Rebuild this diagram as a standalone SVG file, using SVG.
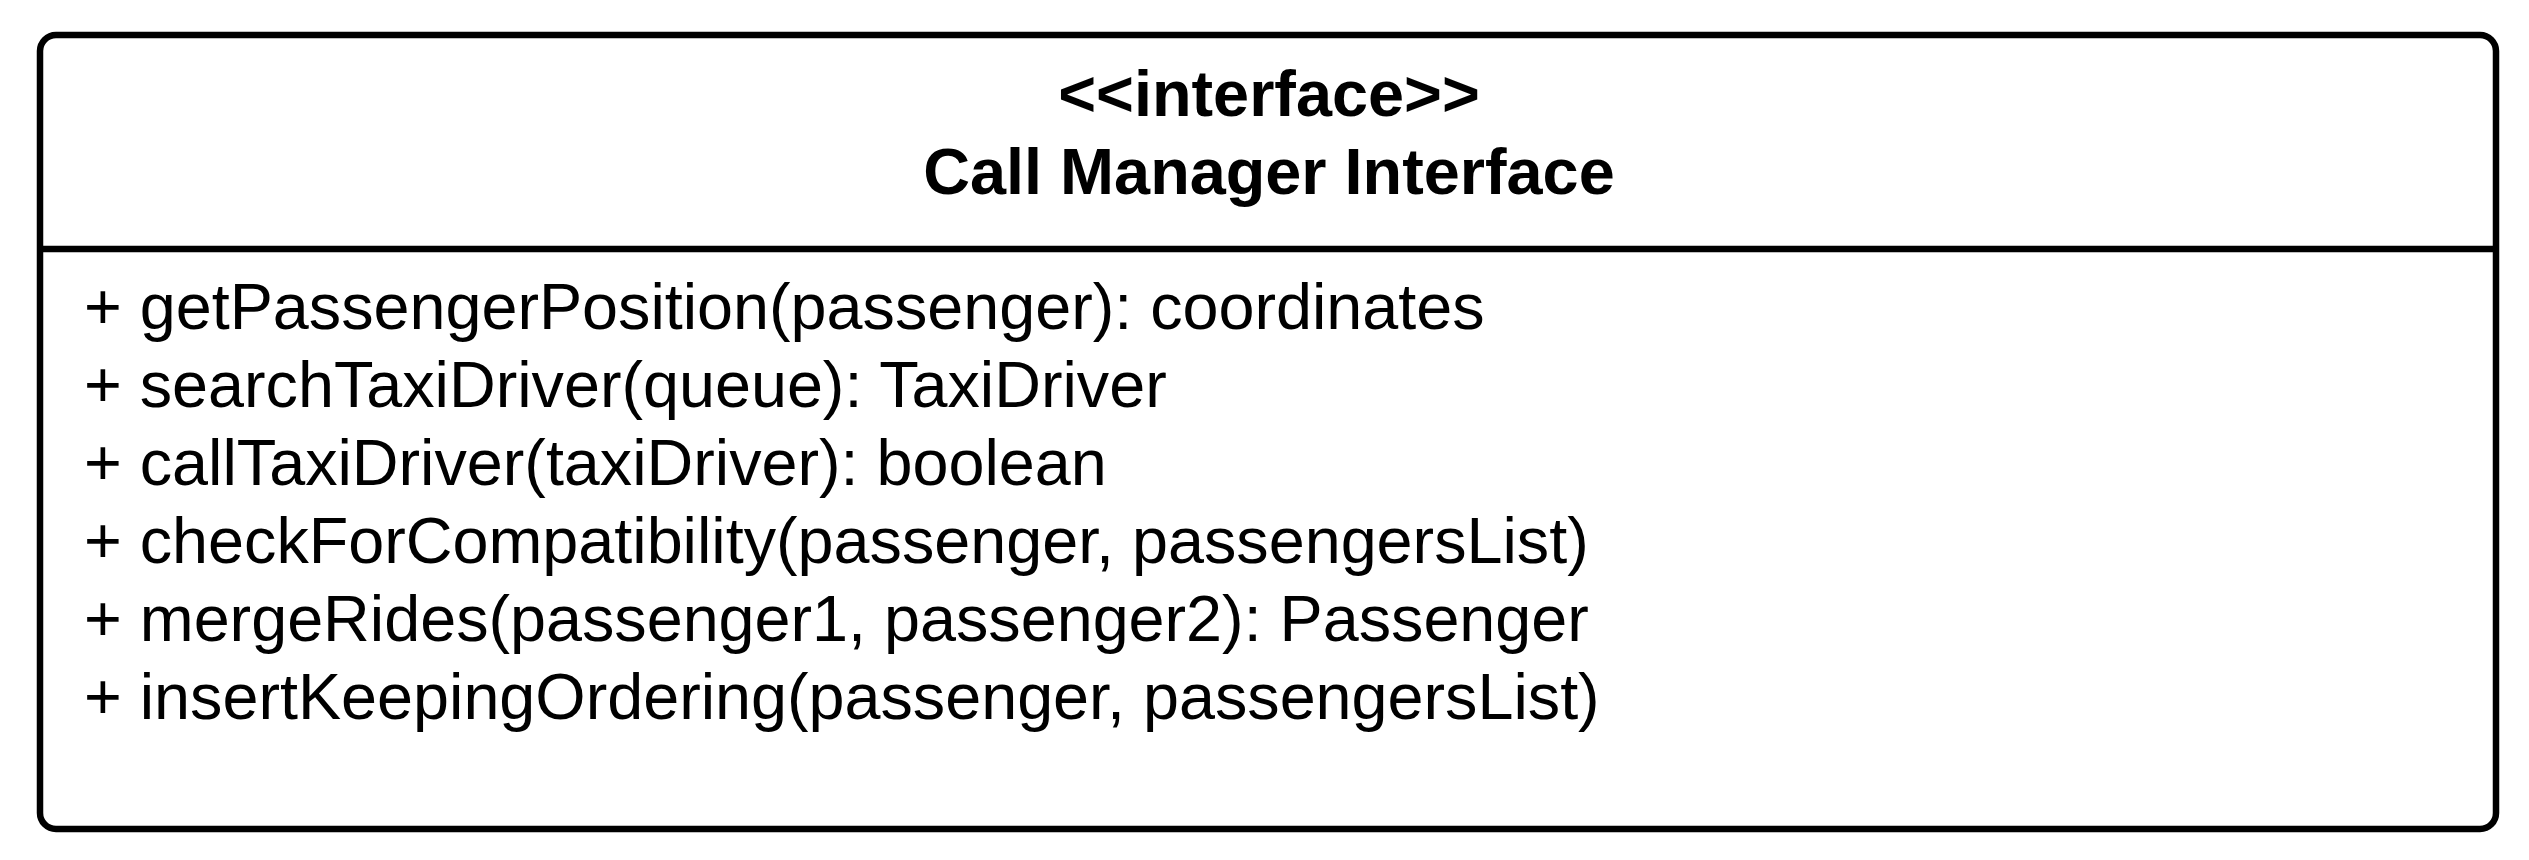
<svg xmlns="http://www.w3.org/2000/svg" width="2529" height="860" viewBox="0 0 2529 860">
  <style>
    .frame { fill: #ffffff; stroke: #000000; stroke-width: 6.5; }
    .rule { stroke: #000000; stroke-width: 6.5; fill: none; }
    .title { font-family: "Liberation Sans", Arial, sans-serif; font-size: 64.8px; font-weight: bold; fill: #000000; text-anchor: middle; }
    .op { font-family: "Liberation Sans", Arial, sans-serif; font-size: 64.7px; fill: #000000; }
  </style>
  <rect width="2529" height="860" fill="#ffffff"/>
  <g id="call-manager-interface">
    <rect class="frame" x="40" y="35" width="2456" height="794" rx="16" ry="16"/>
    <line class="rule" x1="40" y1="249" x2="2496" y2="249"/>
    <text class="title" x="1269" y="116">&lt;&lt;interface&gt;&gt;</text>
    <text class="title" x="1269" y="194">Call Manager Interface</text>
    <text class="op" x="84" y="329">+ getPassengerPosition(passenger): coordinates</text>
    <text class="op" x="84" y="407">+ searchTaxiDriver(queue): TaxiDriver</text>
    <text class="op" x="84" y="485">+ callTaxiDriver(taxiDriver): boolean</text>
    <text class="op" x="84" y="563">+ checkForCompatibility(passenger, passengersList)</text>
    <text class="op" x="84" y="641">+ mergeRides(passenger1, passenger2): Passenger</text>
    <text class="op" x="84" y="719">+ insertKeepingOrdering(passenger, passengersList)</text>
  </g>
  <g id="connectors"></g>
</svg>
